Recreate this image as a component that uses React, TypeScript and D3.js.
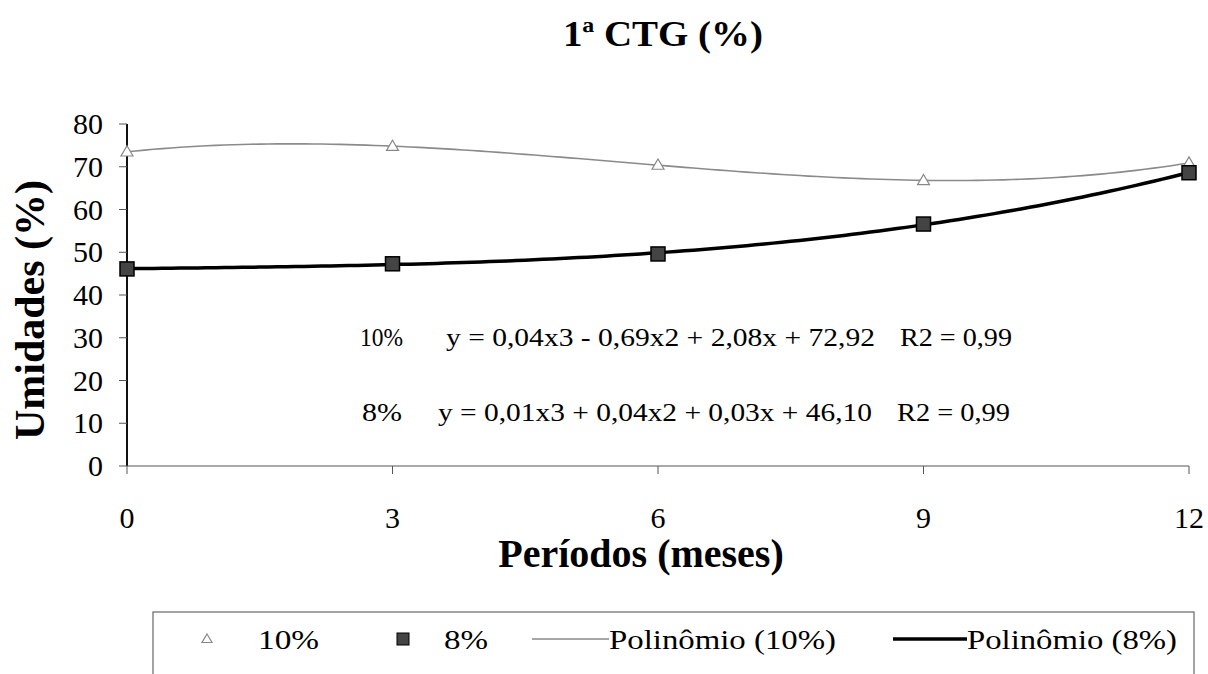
import React from "react";
import * as d3 from "d3";

const title = "1ª CTG (%)";
const yTitle = "Umidades (%)";
const xTitle = "Períodos (meses)";
const periods = [0, 3, 6, 9, 12];
const yTicks = [0, 10, 20, 30, 40, 50, 60, 70, 80];
const series10 = [73.5, 74.8, 70.4, 66.8, 70.9];
const series8 = [46.1, 47.3, 49.6, 56.6, 68.6];
const eq10 = ["10%", "y = 0,04x3 - 0,69x2 + 2,08x + 72,92", "R2 = 0,99"];
const eq8 = ["8%", "y = 0,01x3 + 0,04x2 + 0,03x + 46,10", "R2 = 0,99"];
const legendLabels = ["10%", "8%", "Polinômio (10%)", "Polinômio (8%)"];

// least-squares polynomial fit (what the spreadsheet trendline does)
function polyFit(xs: number[], ys: number[], deg: number): number[] {
  const n = deg + 1;
  const A: number[][] = Array.from({ length: n }, () => new Array(n + 1).fill(0));
  for (let r = 0; r < n; r++) {
    for (let c = 0; c < n; c++) {
      A[r][c] = xs.reduce((s, x) => s + Math.pow(x, r + c), 0);
    }
    A[r][n] = xs.reduce((s, x, i) => s + Math.pow(x, r) * ys[i], 0);
  }
  for (let i = 0; i < n; i++) {
    let p = i;
    for (let k = i + 1; k < n; k++) if (Math.abs(A[k][i]) > Math.abs(A[p][i])) p = k;
    [A[i], A[p]] = [A[p], A[i]];
    for (let k = i + 1; k < n; k++) {
      const f = A[k][i] / A[i][i];
      for (let j = i; j <= n; j++) A[k][j] -= f * A[i][j];
    }
  }
  const coef = new Array(n).fill(0);
  for (let i = n - 1; i >= 0; i--) {
    let s = A[i][n];
    for (let j = i + 1; j < n; j++) s -= A[i][j] * coef[j];
    coef[i] = s / A[i][i];
  }
  return coef;
}

const FONT = '"Liberation Serif", "Times New Roman", serif';

function T(props: any) {
  const { w, children, ...rest } = props;
  return (
    <text
      style={{ fontFamily: FONT }}
      {...rest}
      {...(w ? { textLength: w, lengthAdjust: "spacingAndGlyphs" } : {})}
    >
      {children}
    </text>
  );
}

export default function App() {
  const x = d3.scaleLinear().domain([0, 12]).range([127, 1189]);
  const y = d3.scaleLinear().domain([0, 80]).range([466, 124]);

  const c10 = polyFit(periods, series10, 3);
  const c8 = polyFit(periods, series8, 3);
  const ev = (c: number[], t: number) => c.reduce((s, a, i) => s + a * Math.pow(t, i), 0);
  const samples = d3.range(0, 12.0001, 0.1);
  const line = d3
    .line<number[]>()
    .x((d) => x(d[0]))
    .y((d) => y(d[1]));
  const path10 = line(samples.map((t) => [t, ev(c10, t)])) || "";
  const path8 = line(samples.map((t) => [t, ev(c8, t)])) || "";

  const tri = (cx: number, cy: number, s: number) =>
    `M${cx},${cy - s} L${cx + s},${cy + s * 0.7} L${cx - s},${cy + s * 0.7} Z`;

  const legY = 639;

  return (
    <div style={{ position: "fixed", left: 0, top: 0 }}>
      <svg width={1208} height={674} style={{ display: "block", background: "#fff", fontFamily: FONT }}>
        <rect x={0} y={0} width={1208} height={674} fill="#fff" />
        <T x={563} y={46} fontSize={35} fontWeight="bold" w={200}>
          {title}
        </T>

        {/* y axis */}
        <line x1={127} x2={127} y1={y(80)} y2={y(0)} stroke="#111" strokeWidth={2} />
        {yTicks.map((t) => (
          <g key={"y" + t}>
            <line x1={119} x2={127} y1={y(t)} y2={y(t)} stroke="#555" strokeWidth={1} />
            <T x={103} y={y(t)} dy="0.34em" textAnchor="end" fontSize={30}>
              {t}
            </T>
          </g>
        ))}
        {/* x axis */}
        <line x1={x(0)} x2={x(12)} y1={y(0)} y2={y(0)} stroke="#555" strokeWidth={1.2} />
        {periods.map((p) => (
          <g key={"x" + p}>
            <line x1={x(p)} x2={x(p)} y1={y(0)} y2={y(0) + 8} stroke="#555" strokeWidth={1} />
            <T x={x(p)} y={528} textAnchor="middle" fontSize={30}>
              {p}
            </T>
          </g>
        ))}

        <T x={641} y={567} textAnchor="middle" fontSize={40} fontWeight="bold">
          {xTitle}
        </T>
        <T transform="translate(44,310) rotate(-90)" textAnchor="middle" fontSize={42} fontWeight="bold">
          {yTitle}
        </T>

        {/* trendlines */}
        <path d={path10} fill="none" stroke="#8a8a8a" strokeWidth={1.6} />
        <path d={path8} fill="none" stroke="#000" strokeWidth={3.5} />

        {/* markers */}
        {periods.map((p, i) => (
          <path key={"m10" + p} d={tri(x(p), y(series10[i]), 6)} fill="#fff" stroke="#888" strokeWidth={1.2} />
        ))}
        {periods.map((p, i) => (
          <rect
            key={"m8" + p}
            x={x(p) - 7}
            y={y(series8[i]) - 7}
            width={14}
            height={14}
            fill="#444"
            stroke="#000"
            strokeWidth={1.5}
          />
        ))}

        {/* equations */}
        <T x={360} y={346} fontSize={25} w={43}>{eq10[0]}</T>
        <T x={446} y={346} fontSize={25} w={429}>{eq10[1]}</T>
        <T x={900} y={346} fontSize={25} w={112}>{eq10[2]}</T>
        <T x={362} y={421} fontSize={25} w={40}>{eq8[0]}</T>
        <T x={438} y={421} fontSize={25} w={434}>{eq8[1]}</T>
        <T x={897} y={421} fontSize={25} w={113}>{eq8[2]}</T>

        {/* legend */}
        <rect x={153} y={612} width={1041} height={100} fill="none" stroke="#666" strokeWidth={1.2} />
        <path d={tri(207, legY, 5)} fill="#fff" stroke="#888" strokeWidth={1.2} />
        <T x={258} y={legY} dy="0.34em" fontSize={28} w={61}>{legendLabels[0]}</T>
        <rect x={397} y={legY - 6} width={12} height={12} fill="#444" stroke="#000" strokeWidth={1} />
        <T x={444} y={legY} dy="0.34em" fontSize={28} w={44}>{legendLabels[1]}</T>
        <line x1={532} x2={609} y1={legY} y2={legY} stroke="#8a8a8a" strokeWidth={1.6} />
        <T x={609} y={legY} dy="0.34em" fontSize={28} w={227}>{legendLabels[2]}</T>
        <line x1={893} x2={967} y1={legY} y2={legY} stroke="#000" strokeWidth={3.5} />
        <T x={967} y={legY} dy="0.34em" fontSize={28} w={210}>{legendLabels[3]}</T>
      </svg>
    </div>
  );
}
